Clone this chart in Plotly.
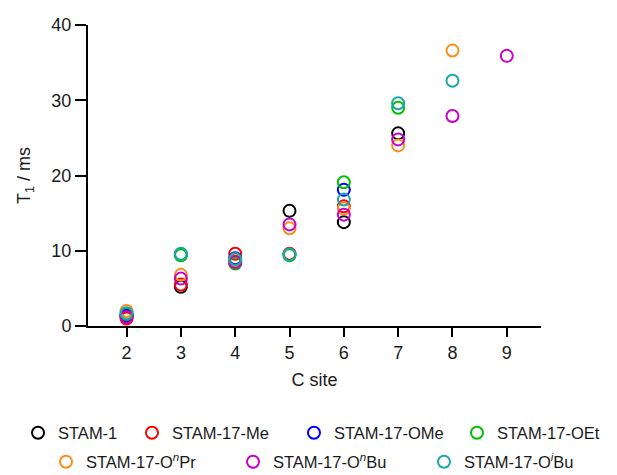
import plotly.graph_objects as go

c_site = [2, 3, 4, 5, 6, 7, 8, 9]

series_names = [
    "STAM-1", "STAM-17-Me", "STAM-17-OMe", "STAM-17-OEt",
    "STAM-17-O<sup><i>n</i></sup>Pr", "STAM-17-O<sup><i>n</i></sup>Bu",
    "STAM-17-O<sup><i>i</i></sup>Bu",
]
colors = ["#000000", "#ff0000", "#0000ff", "#00c000", "#ff8c1a", "#c800c8", "#18a8a8"]

stam1   = [1.3, 5.2, 8.5, 15.3, 13.8, 25.6, None, None]
me      = [1.0, 5.5, 9.6, 9.6, 15.9, None, None, None]
ome     = [1.4, 9.5, 9.0, None, 18.1, None, None, None]
oet     = [1.6, 9.4, 8.3, 9.4, 19.1, 29.0, None, None]
onpr    = [2.0, 6.8, 8.7, 13.0, 15.6, 24.0, 36.6, None]
onbu    = [1.2, 6.3, 8.5, 13.5, 14.8, 24.8, 27.9, 35.9]
oibu    = [1.7, 9.6, 8.9, 9.5, 16.8, 29.6, 32.6, None]

values = [stam1, me, ome, oet, onpr, onbu, oibu]

# legend placement (paper coordinates): two centred rows, one legend per entry
legend_x = [-0.1545, 0.0971, 0.4547, 0.8146, -0.0927, 0.3201, 0.7417]
legend_y = [-0.3555, -0.3555, -0.3555, -0.3555, -0.452, -0.452, -0.452]

font = "Liberation Sans, Arial, sans-serif"
fig = go.Figure()
legend_layouts = {}
for i, (name, col, vals) in enumerate(zip(series_names, colors, values)):
    lid = "legend" if i == 0 else f"legend{i + 1}"
    xs = [c for c, v in zip(c_site, vals) if v is not None]
    ys = [v for v in vals if v is not None]
    fig.add_trace(go.Scatter(
        x=xs, y=ys, mode="markers", name=name, legend=lid,
        marker=dict(symbol="circle-open", size=12, color=col, line=dict(width=2, color=col)),
    ))
    legend_layouts[lid] = dict(
        x=legend_x[i], xanchor="left", y=legend_y[i], yanchor="middle",
        orientation="h", font=dict(size=16.5, family=font, color="#1a1a1a"),
        bgcolor="rgba(0,0,0,0)", borderwidth=0, itemwidth=30,
    )

fig.update_layout(
    width=617, height=475,
    margin=dict(l=88, r=76, t=25, b=149, autoexpand=False),
    paper_bgcolor="white", plot_bgcolor="white",
    font=dict(family=font, size=18, color="#1a1a1a"),
    xaxis=dict(
        range=[1.29, 9.63], tickmode="array", tickvals=c_site,
        showline=True, linecolor="black", linewidth=2,
        ticks="outside", ticklen=9, tickwidth=2, tickcolor="black",
        showgrid=False, zeroline=False,
        title=dict(text="C site", standoff=12, font=dict(size=18)),
    ),
    yaxis=dict(
        range=[0, 40], tickvals=[0, 10, 20, 30, 40],
        showline=True, linecolor="black", linewidth=2,
        ticks="outside", ticklen=11, tickwidth=2, tickcolor="black",
        showgrid=False, zeroline=False,
        title=dict(text="T<sub>1</sub> / ms", standoff=16, font=dict(size=18)),
    ),
    showlegend=True,
    **legend_layouts,
)

fig.write_html("out.html")
